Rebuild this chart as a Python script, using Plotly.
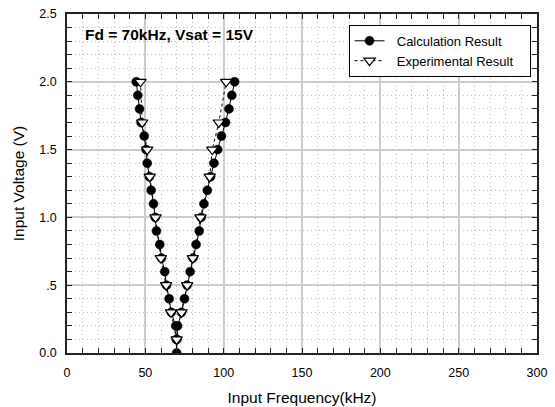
import plotly.graph_objects as go

# Calculation result (left branch from 2.0 V down to 0, then right branch up to 2.0 V)
calc_v = [2.0, 1.9, 1.8, 1.7, 1.6, 1.5, 1.4, 1.3, 1.2, 1.1, 1.0, 0.9, 0.8, 0.7, 0.6, 0.5, 0.4, 0.3, 0.2, 0.1,
          0.0,
          0.1, 0.2, 0.3, 0.4, 0.5, 0.6, 0.7, 0.8, 0.9, 1.0, 1.1, 1.2, 1.3, 1.4, 1.5, 1.6, 1.7, 1.8, 1.9, 2.0]
calc_f = [44.2, 45.2, 46.3, 47.3, 49.3, 50.5, 51.2, 52.6, 53.7, 55.2, 56.3, 57.1, 59.2, 60.3, 62.4, 63.5, 65.2, 66.5, 69.4, 69.8,
          70.0,
          70.2, 70.6, 73.1, 75.0, 76.6, 78.6, 80.4, 82.4, 84.4, 85.6, 87.4, 89.6, 91.6, 93.8, 96.2, 98.6, 101.2, 103.4, 105.2, 107.0]

# Experimental result
exp_v = [2.0, 1.7, 1.5, 1.3, 1.0, 0.7, 0.5, 0.3, 0.1, 0.3, 0.5, 0.7, 1.0, 1.3, 1.5, 1.7, 2.0]
exp_f = [46.9, 48.0, 51.2, 52.8, 56.5, 59.9, 63.3, 66.4, 70.0, 73.1, 76.7, 80.3, 85.2, 91.1, 92.7, 96.9, 101.6]

x_ticks = [0, 50, 100, 150, 200, 250, 300]
y_ticks = [0.0, 0.5, 1.0, 1.5, 2.0, 2.5]
y_tick_text = ["0.0", ".5", "1.0", "1.5", "2.0", "2.5"]

FONT = "Liberation Sans, Arial, sans-serif"
NB = "\u00a0"

fig = go.Figure()
fig.add_trace(go.Scatter(
    x=calc_f, y=calc_v, mode="lines+markers", name=NB * 2 + "Calculation Result" + NB * 3,
    line=dict(color="black", width=1),
    marker=dict(symbol="circle", size=9, color="black", line=dict(color="black", width=0.5)),
))
fig.add_trace(go.Scatter(
    x=exp_f, y=exp_v, mode="lines+markers", name=NB * 2 + "Experimental Result" + NB * 3,
    line=dict(color="black", width=1, dash="dot"),
    marker=dict(symbol="triangle-down", size=10, color="white", line=dict(color="black", width=1.2)),
))

axis_common = dict(
    showline=True, linecolor="#222222", linewidth=1.5, mirror="ticks",
    ticks="inside", ticklen=5, tickcolor="#222222", tickwidth=1,
    showgrid=True, gridcolor="#cccccc", gridwidth=1.5,
    zeroline=False, automargin=False,
    tickfont=dict(family=FONT, size=12.5, color="black"),
)

minor_common = dict(ticks="inside", ticklen=5, tickcolor="#222222", tickwidth=1,
                    showgrid=True, gridcolor="#bcbcbc", griddash="1px,3px", gridwidth=1)

fig.update_xaxes(
    range=[0, 300], tickvals=x_ticks,
    minor=dict(dtick=10, **minor_common),
    ticklabelstandoff=7,
    title=dict(text="Input Frequency(kHz)", font=dict(family=FONT, size=15.5, color="black"), standoff=13),
    **axis_common,
)
fig.update_yaxes(
    range=[0, 2.5], tickvals=y_ticks, ticktext=y_tick_text,
    minor=dict(dtick=0.1, **minor_common),
    ticklabelstandoff=6,
    title=dict(text="Input Voltage (V)", font=dict(family=FONT, size=15.5, color="black"), standoff=11),
    **axis_common,
)

fig.add_annotation(
    text="<b>Fd = 70kHz, Vsat = 15V</b>", xref="paper", yref="paper",
    x=0.034, y=0.941, xanchor="left", yanchor="middle", showarrow=False,
    font=dict(family=FONT, size=15.5, color="black"),
)

fig.update_layout(
    width=555, height=407,
    margin=dict(l=66.5, r=18.3, t=14, b=53.7),
    paper_bgcolor="white", plot_bgcolor="white",
    showlegend=True,
    legend=dict(
        x=0.599, y=0.968, xanchor="left", yanchor="top",
        bgcolor="white", bordercolor="black", borderwidth=1,
        font=dict(family=FONT, size=13, color="black"),
        tracegroupgap=0, itemwidth=30,
    ),
)

fig.write_html("out.html")
